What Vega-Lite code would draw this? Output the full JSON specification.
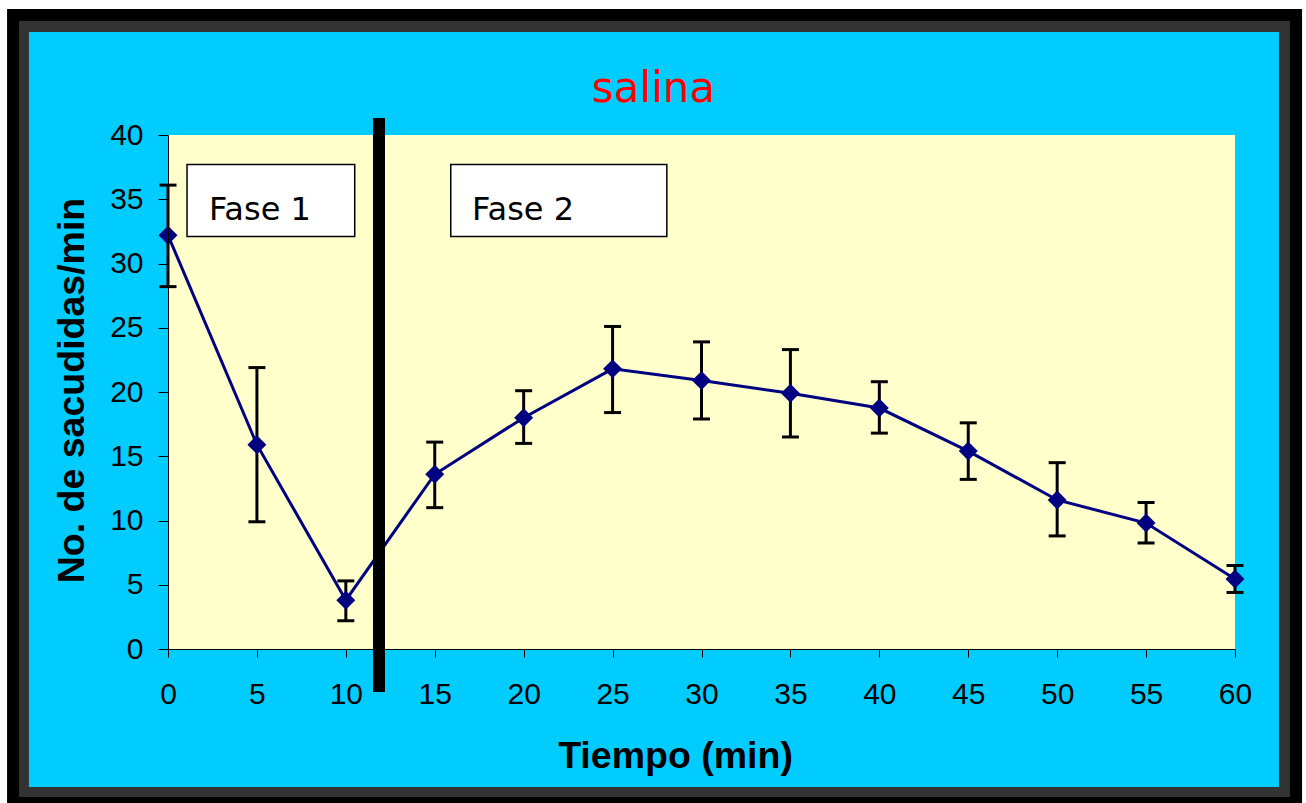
{
  "$schema": "https://vega.github.io/schema/vega-lite/v6.json",
  "width": 1067,
  "height": 514,
  "autosize": {"type": "none"},
  "padding": {"left": 168, "top": 135, "right": 71, "bottom": 154},
  "background": "#FFFFFF",
  "title": {
    "text": "salina",
    "color": "#FF0000",
    "font": "DejaVu Sans",
    "fontSize": 42,
    "fontWeight": "normal",
    "anchor": "middle",
    "frame": "group",
    "dx": -48,
    "offset": 0,
    "dy": 135,
    "baseline": "alphabetic"
  },
  "config": {
    "view": {"stroke": null},
    "axis": {
      "grid": false,
      "domainColor": "#000000",
      "tickColor": "#000000",
      "labelColor": "#000000",
      "titleColor": "#000000",
      "labelFont": "Liberation Sans",
      "titleFont": "Liberation Sans",
      "labelFontSize": 30,
      "titleFontSize": 37.5,
      "titleFontWeight": "bold",
      "labelFlush": false,
      "labelOverlap": false
    }
  },
  "datasets": {
    "series": [
      {"t": 0, "v": 32.2, "lo": 28.2, "hi": 36.1},
      {"t": 5, "v": 15.9, "lo": 9.9, "hi": 21.9},
      {"t": 10, "v": 3.8, "lo": 2.2, "hi": 5.3},
      {"t": 15, "v": 13.6, "lo": 11.0, "hi": 16.1},
      {"t": 20, "v": 18.0, "lo": 16.0, "hi": 20.1},
      {"t": 25, "v": 21.8, "lo": 18.4, "hi": 25.1},
      {"t": 30, "v": 20.9, "lo": 17.9, "hi": 23.9},
      {"t": 35, "v": 19.9, "lo": 16.5, "hi": 23.3},
      {"t": 40, "v": 18.75, "lo": 16.8, "hi": 20.8},
      {"t": 45, "v": 15.4, "lo": 13.2, "hi": 17.6},
      {"t": 50, "v": 11.6, "lo": 8.8, "hi": 14.5},
      {"t": 55, "v": 9.8, "lo": 8.25, "hi": 11.4},
      {"t": 60, "v": 5.45, "lo": 4.4, "hi": 6.5}
    ],
    "phases": [
      {"label": "Fase 1", "x0": 1.07, "x1": 10.5, "y0": 32.1, "y1": 37.7, "tx": 2.3, "ty": 33.4},
      {"label": "Fase 2", "x0": 15.9, "x1": 28.05, "y0": 32.1, "y1": 37.7, "tx": 17.1, "ty": 33.4}
    ]
  },
  "layer": [
    {
      "data": {"values": [{}]},
      "mark": {"type": "rect", "fill": "#000000", "clip": false},
      "encoding": {
        "x": {
          "datum": -9.05, "type": "quantitative",
          "scale": {"domain": [0, 60], "nice": false, "zero": false},
          "axis": {
            "zindex": 1,
            "title": "Tiempo (min)",
            "values": [0, 5, 10, 15, 20, 25, 30, 35, 40, 45, 50, 55, 60],
            "tickSize": 8,
            "labelPadding": 22,
            "titleX": 507,
            "titleY": 118,
            "titleAlign": "center",
            "titleBaseline": "alphabetic"
          }
        },
        "x2": {"datum": 63.77},
        "y": {
          "datum": 49.81, "type": "quantitative",
          "scale": {"domain": [0, 40], "nice": false},
          "axis": {
            "zindex": 1,
            "title": "No. de sacudidas/min",
            "values": [0, 5, 10, 15, 20, 25, 30, 35, 40],
            "tickSize": 10,
            "labelPadding": 15,
            "titleAngle": -90,
            "titleX": -85,
            "titleY": 255,
            "titleAlign": "center",
            "titleBaseline": "alphabetic"
          }
        },
        "y2": {"datum": -12.5}
      }
    },
    {
      "data": {"values": [{}]},
      "mark": {"type": "rect", "fill": "#333333", "clip": false},
      "encoding": {
        "x": {"datum": -8.38, "type": "quantitative"},
        "x2": {"datum": 63.09},
        "y": {"datum": 48.87, "type": "quantitative"},
        "y2": {"datum": -11.52}
      }
    },
    {
      "data": {"values": [{}]},
      "mark": {"type": "rect", "fill": "#00CCFF", "clip": false},
      "encoding": {
        "x": {"datum": -7.82, "type": "quantitative"},
        "x2": {"datum": 62.47},
        "y": {"datum": 48.02, "type": "quantitative"},
        "y2": {"datum": -10.74}
      }
    },
    {
      "data": {"values": [{}]},
      "mark": {"type": "rect", "fill": "#FFFFCC", "clip": false},
      "encoding": {
        "x": {"datum": 0, "type": "quantitative"},
        "x2": {"datum": 60},
        "y": {"datum": 40, "type": "quantitative"},
        "y2": {"datum": 0}
      }
    },
    {
      "data": {"name": "phases"},
      "mark": {"type": "rect", "fill": "#FFFFFF", "stroke": "#000000", "strokeWidth": 1.5},
      "encoding": {
        "x": {"field": "x0", "type": "quantitative"},
        "x2": {"field": "x1"},
        "y": {"field": "y1", "type": "quantitative"},
        "y2": {"field": "y0"}
      }
    },
    {
      "data": {"name": "phases"},
      "mark": {"type": "text", "font": "DejaVu Sans", "fontSize": 32, "color": "#000000", "align": "left", "baseline": "alphabetic"},
      "encoding": {
        "x": {"field": "tx", "type": "quantitative"},
        "y": {"field": "ty", "type": "quantitative"},
        "text": {"field": "label"}
      }
    },
    {
      "data": {"name": "series"},
      "mark": {"type": "line", "color": "#000080", "strokeWidth": 3, "clip": false},
      "encoding": {
        "x": {"field": "t", "type": "quantitative"},
        "y": {"field": "v", "type": "quantitative"}
      }
    },
    {
      "data": {"name": "series"},
      "mark": {"type": "rule", "color": "#000000", "strokeWidth": 3, "clip": false},
      "encoding": {
        "x": {"field": "t", "type": "quantitative"},
        "y": {"field": "lo", "type": "quantitative"},
        "y2": {"field": "hi"}
      }
    },
    {
      "data": {"name": "series"},
      "mark": {"type": "tick", "color": "#000000", "orient": "horizontal", "size": 17, "thickness": 3, "opacity": 1, "clip": false},
      "encoding": {
        "x": {"field": "t", "type": "quantitative"},
        "y": {"field": "hi", "type": "quantitative"}
      }
    },
    {
      "data": {"name": "series"},
      "mark": {"type": "tick", "color": "#000000", "orient": "horizontal", "size": 17, "thickness": 3, "opacity": 1, "clip": false},
      "encoding": {
        "x": {"field": "t", "type": "quantitative"},
        "y": {"field": "lo", "type": "quantitative"}
      }
    },
    {
      "data": {"name": "series"},
      "mark": {"type": "point", "shape": "diamond", "filled": true, "size": 360, "color": "#000080", "opacity": 1, "clip": false},
      "encoding": {
        "x": {"field": "t", "type": "quantitative"},
        "y": {"field": "v", "type": "quantitative"}
      }
    },
    {
      "data": {"values": [{}]},
      "mark": {"type": "rule", "color": "#000000", "strokeWidth": 12, "strokeCap": "butt", "clip": false},
      "encoding": {
        "x": {"datum": 11.865, "type": "quantitative"},
        "y": {"datum": 41.32, "type": "quantitative"},
        "y2": {"datum": -3.35}
      }
    }
  ]
}
